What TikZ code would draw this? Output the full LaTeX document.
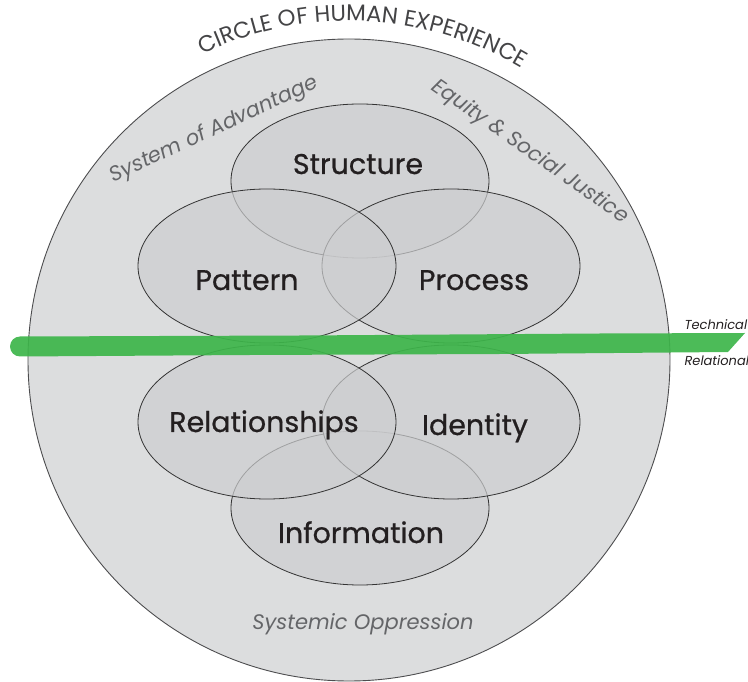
\documentclass[tikz,border=0pt]{standalone}
\usepackage{fontspec}
\setmainfont{Poppins}
\newfontfamily\areafont[FakeBold=0.7]{Poppins}
\usetikzlibrary{shapes.geometric, decorations.text}

\definecolor{ringfill}{HTML}{DCDDDE}
\definecolor{ringline}{HTML}{4D4D4F}
\definecolor{ellfill}{HTML}{CDCED0}
\definecolor{ellline}{HTML}{333333}
\definecolor{markgreen}{HTML}{3DB54A}
\definecolor{softgray}{HTML}{646568}
\definecolor{darktext}{HTML}{231F20}
\definecolor{titletext}{HTML}{444446}

\newcommand\ringfont{\fontsize{22.8}{25}\selectfont}

\begin{document}
\begin{tikzpicture}[x=1pt, y=1pt,
    lensbox/.style={ellipse, draw=ellline, line width=0.8pt, fill=ellfill,
      fill opacity=0.7, inner sep=0pt, minimum width=258pt, minimum height=154pt},
    arealabel/.style={text=darktext, font=\areafont\fontsize{28.5}{30}\selectfont, anchor=base},
    framelabel/.style={text=softgray, font=\fontsize{21}{23}\selectfont\itshape},
    sidelabel/.style={text=darktext, font=\fontsize{13}{15}\selectfont\itshape, anchor=base west}]
  \useasboundingbox (0,0) rectangle (748,681);

  \node[circle, draw=ringline, line width=0.9pt, fill=ringfill, minimum size=642pt,
    inner sep=0pt] (human) at (349,321) {};

  % technical side
  \node[lensbox] (structure) at (360,500) {};
  \node[lensbox] (process) at (451,415) {};
  \node[lensbox] (pattern) at (267,415) {};
  % relational side
  \node[lensbox] (information) at (360,173) {};
  \node[lensbox] (identity) at (451,259) {};
  \node[lensbox] (relationships) at (267,259) {};

  % marker stroke
  \fill[markgreen, fill opacity=0.92] (20,344.5) -- (300,345.5) -- (600,347.5)
    -- (745,348) -- (728,329) -- (500,327) -- (250,326) -- (20,324.5)
    arc[start angle=270, end angle=90, radius=10pt] -- cycle;

  \node[arealabel] (structurelabel) at (358,507) {Structure};
  \node[arealabel] (patternlabel) at (247,391) {Pattern};
  \node[arealabel] (processlabel) at (474,391) {Process};
  \node[arealabel] (relationshipslabel) at (264,249) {Relationships};
  \node[arealabel] (identitylabel) at (475,246) {Identity};
  \node[arealabel] (informationlabel) at (361,138) {Information};

  \path[decorate, decoration={text along path, text align=center, text color=titletext,
      text={|\ringfont|CIRCLE OF HUMAN EXPERIENCE}}]
    (human.center) ++(128:339pt) arc[start angle=128, end angle=47, radius=339pt];

  \node[framelabel, rotate=25] (advantage) at (214,551) {System of Advantage};
  \node[framelabel, rotate=-35] (equity) at (530,529) {Equity \& Social Justice};
  \node[framelabel, anchor=base] (oppression) at (363,52) {Systemic Oppression};

  \node[sidelabel] (technical) at (681,351) {Technical};
  \node[sidelabel] (relational) at (681,315) {Relational};
\end{tikzpicture}
\end{document}
